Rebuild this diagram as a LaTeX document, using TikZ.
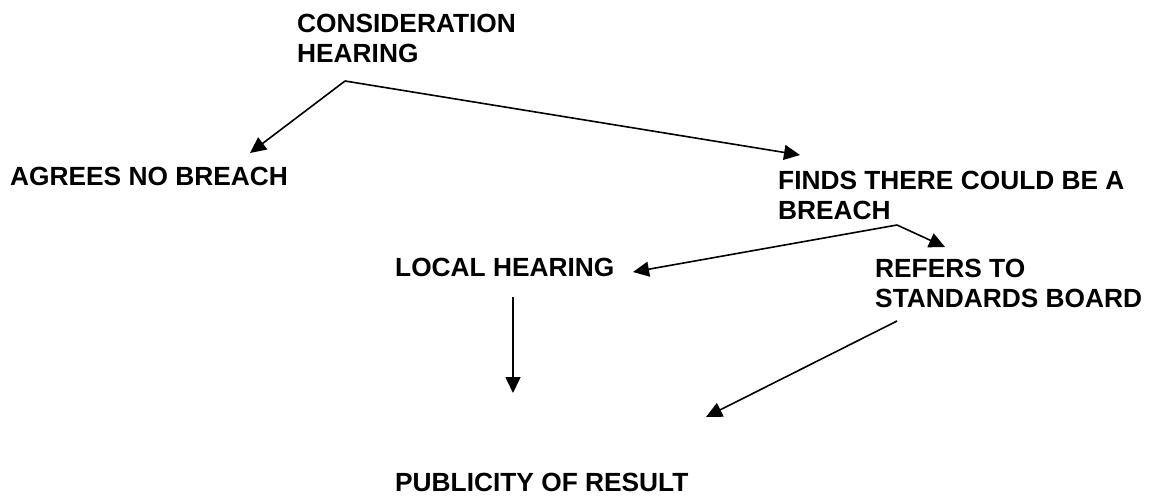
\documentclass[tikz,border=0pt]{standalone}
\usepackage{fontspec}
\setmainfont{Liberation Sans}
\usetikzlibrary{arrows.meta}
\begin{document}
\begin{tikzpicture}[x=1pt,y=-1pt,
  lbl/.style={anchor=north west,inner sep=0pt,align=left,font=\fontsize{26.3}{30}\selectfont\bfseries},
  conn/.style={line width=1.6pt,-{Triangle[length=16pt,width=15pt]}}]
\useasboundingbox (0,0) rectangle (1151,496);
\node[lbl] (cons) at (297,13.5) {CONSIDERATION\\HEARING};
\node[lbl] (agree) at (10,166.5) {AGREES NO BREACH};
\node[lbl] (finds) at (778,171) {FINDS THERE COULD BE A\\BREACH};
\node[lbl] (local) at (395,258) {LOCAL HEARING};
\node[lbl] (refers) at (875,259) {REFERS TO\\STANDARDS BOARD};
\node[lbl] (pub) at (395,473) {PUBLICITY OF RESULT};
\coordinate (consout) at (345,81);
\coordinate (agreein) at (250,153);
\coordinate (findsin) at (800,155);
\coordinate (findsout) at (897,225);
\coordinate (refersin) at (945,247);
\coordinate (localin) at (633,272);
\coordinate (localout) at (513,297);
\coordinate (pubinA) at (513,393);
\coordinate (refersout) at (897,321);
\coordinate (pubinB) at (706,417);
\draw[conn] (consout) -- (agreein);
\draw[conn] (consout) -- (findsin);
\draw[conn] (findsout) -- (refersin);
\draw[conn] (findsout) -- (localin);
\draw[conn] (localout) -- (pubinA);
\draw[conn] (refersout) -- (pubinB);
\end{tikzpicture}
\end{document}
